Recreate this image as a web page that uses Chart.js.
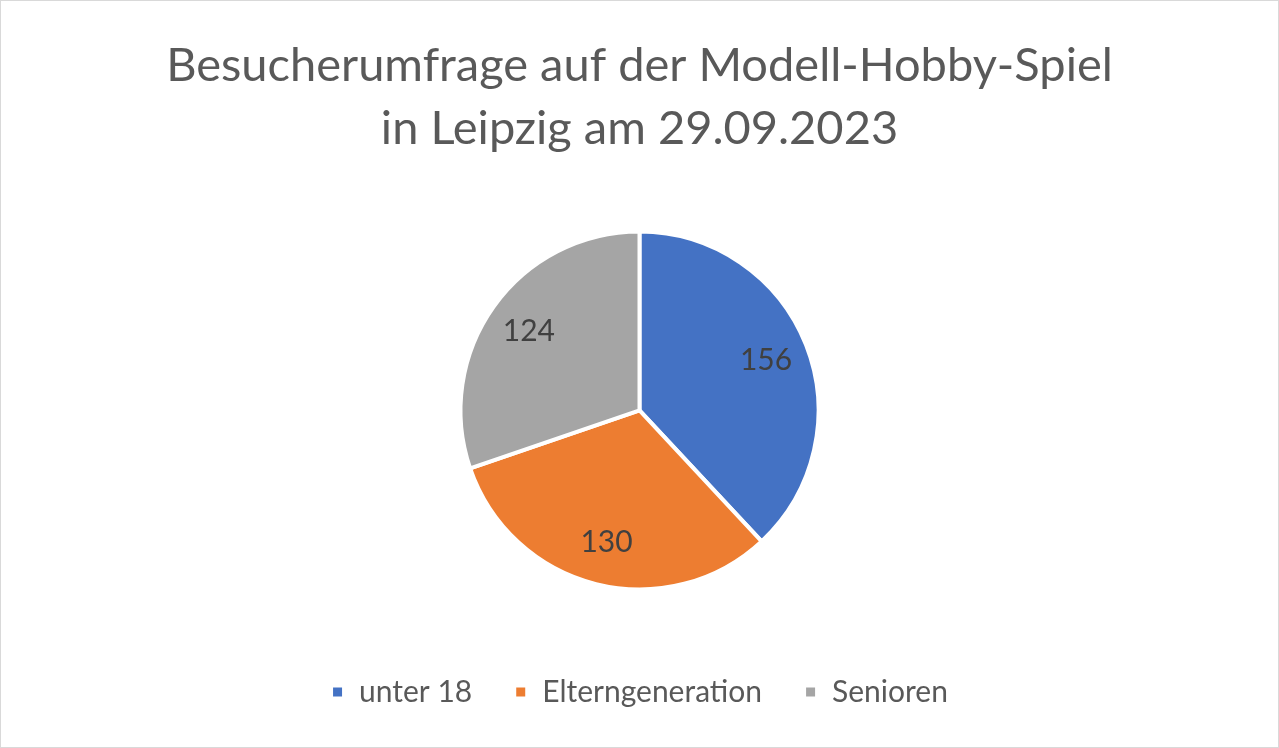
<!DOCTYPE html>
<html>
<head>
<meta charset="utf-8">
<script src="https://cdn.jsdelivr.net/npm/chart.js@4.4.0/dist/chart.umd.min.js"></script>
<style>
  html, body { margin: 0; padding: 0; background: #fff; }
  #wrap {
    width: 1279px; height: 748px; box-sizing: border-box;
    border: 1px solid #d9d9d9; position: relative;
  }
</style>
</head>
<body>
<div id="wrap"><canvas id="pie"></canvas></div>
<script>
const categories = ["unter 18", "Elterngeneration", "Senioren"];
const visitors = [156, 130, 124];
const sliceColors = ["#4472c4", "#ed7d31", "#a5a5a5"];
const titleLines = ["Besucherumfrage auf der Modell-Hobby-Spiel", "in Leipzig am 29.09.2023"];

const fontFamily = "Lato, 'Open Sans', sans-serif";

// draws the value inside each slice
const sliceLabels = {
  id: "sliceLabels",
  afterDatasetsDraw(chart) {
    const ctx = chart.ctx;
    const meta = chart.getDatasetMeta(0);
    ctx.save();
    ctx.font = "30px " + fontFamily;
    ctx.fillStyle = "#404040";
    ctx.textAlign = "center";
    ctx.textBaseline = "middle";
    meta.data.forEach((arc, i) => {
      const p = arc.getProps(["startAngle", "endAngle", "outerRadius", "x", "y"], true);
      const mid = (p.startAngle + p.endAngle) / 2;
      const r = p.outerRadius * 0.76;
      ctx.fillText(String(visitors[i]), p.x + Math.cos(mid) * r, p.y + Math.sin(mid) * r);
    });
    ctx.restore();
  }
};

new Chart(document.getElementById("pie"), {
  type: "pie",
  data: {
    labels: categories,
    datasets: [{
      data: visitors,
      backgroundColor: sliceColors,
      borderColor: "#ffffff",
      borderWidth: 4,
      radius: 179
    }]
  },
  options: {
    responsive: true,
    maintainAspectRatio: false,
    animation: false,
    layout: { padding: { top: 0, bottom: 30 } },
    plugins: {
      title: {
        display: true,
        text: titleLines,
        color: "#595959",
        font: { family: fontFamily, size: 47, weight: "normal", lineHeight: 1.34 },
        padding: { top: 33, bottom: 26 }
      },
      legend: {
        position: "bottom",
        labels: {
          color: "#595959",
          font: { family: fontFamily, size: 30 },
          boxWidth: 13,
          boxHeight: 13,
          padding: 42
        }
      },
      tooltip: { enabled: false }
    }
  },
  plugins: [sliceLabels]
});
</script>
</body>
</html>
